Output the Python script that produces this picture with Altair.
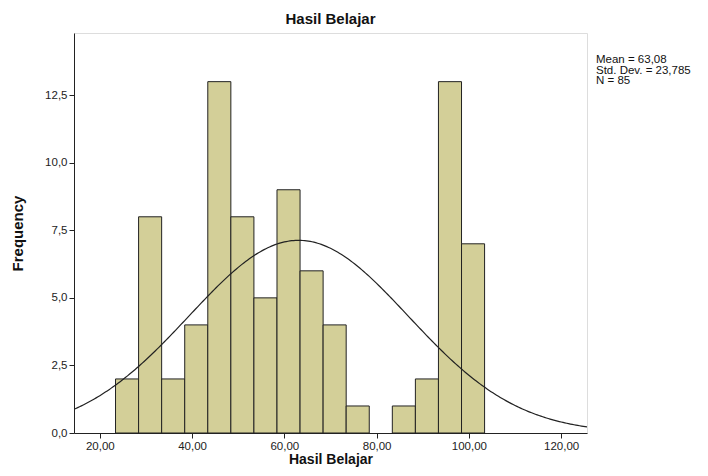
import altair as alt
import pandas as pd

# Histogram data
bin_starts = [23.4, 28.4, 33.4, 38.4, 43.4, 48.4, 53.4, 58.4, 63.4, 68.4, 73.4, 78.4, 83.4, 88.4, 93.4, 98.4]
counts = [2, 8, 2, 4, 13, 8, 5, 9, 6, 4, 1, 0, 1, 2, 13, 7]
bin_width = 5.0

# Summary statistics
mean_val = 63.08
sd_val = 23.785
n_val = 85
stats_lines = ["Mean = 63,08", "Std. Dev. = 23,785", "N = 85"]

x_ticks = [20, 40, 60, 80, 100, 120]
y_ticks = [0, 2.5, 5, 7.5, 10, 12.5]
x_domain = [14.4, 125.6]
y_domain = [0, 14.8]

bars_df = pd.DataFrame({
    "start": bin_starts,
    "end": [s + bin_width for s in bin_starts],
    "count": counts,
})
bars_df = bars_df[bars_df["count"] > 0]

FONT = "Liberation Sans"

xscale = alt.Scale(domain=x_domain, nice=False, zero=False)
yscale = alt.Scale(domain=y_domain, nice=False)

x_axis = alt.Axis(
    values=x_ticks, title="Hasil Belajar", grid=False,
    labelExpr="replace(format(datum.value, '.2f'), '.', ',')",
    labelFont=FONT, labelFontSize=11.5, labelColor="#222",
    titleFont=FONT, titleFontSize=14, titleFontWeight="bold", titleColor="#111",
    tickColor="#222", domainColor="#222", tickSize=5, labelPadding=2, titlePadding=1,
)
y_axis = alt.Axis(
    values=y_ticks, title="Frequency", grid=False,
    labelExpr="replace(format(datum.value, '.1f'), '.', ',')",
    labelFont=FONT, labelFontSize=11.5, labelColor="#222",
    titleFont=FONT, titleFontSize=15, titleFontWeight="bold", titleColor="#111",
    tickColor="#222", domainColor="#222", tickSize=5, labelPadding=2, titlePadding=19,
)

bars = alt.Chart(bars_df).mark_rect(
    fill="#d3cf98", stroke="#222", strokeWidth=1
).encode(
    x=alt.X("start:Q", scale=xscale, axis=x_axis),
    x2="end:Q",
    y=alt.Y("count:Q", scale=yscale, axis=y_axis),
    y2=alt.datum(0),
)

coef = n_val * bin_width / (sd_val * (2 * 3.141592653589793) ** 0.5)
curve = alt.Chart(alt.sequence(x_domain[0], x_domain[1] + 0.01, 0.4, as_="x")).transform_calculate(
    y=f"{coef} * exp(-0.5 * pow((datum.x - {mean_val}) / {sd_val}, 2))"
).mark_line(color="#222", strokeWidth=1.2, clip=True).encode(
    x=alt.X("x:Q", scale=xscale),
    y=alt.Y("y:Q", scale=yscale),
)

stat_layers = []
for i, line in enumerate(stats_lines):
    stat_layers.append(
        alt.Chart(pd.DataFrame({"txt": [line]})).mark_text(
            align="left", baseline="middle", font=FONT, fontSize=11.5, color="#111"
        ).encode(
            x=alt.value(522),
            y=alt.value(27 + 10.5 * i),
            text="txt:N",
        )
    )

chart = alt.layer(bars, curve, *stat_layers).properties(
    width=513, height=400,
    title=alt.TitleParams("Hasil Belajar", font=FONT, fontSize=15, fontWeight="bold",
                          color="#111", anchor="middle", offset=6),
    autosize=alt.AutoSizeParams(type="none"),
    padding={"left": 66, "top": 25, "right": 113, "bottom": 35},
).configure_view(
    fill="#f0f0f0", stroke="#333", strokeWidth=1
).configure(background="white")

chart.save("out.html", embed_options={"renderer": "svg", "actions": False})
